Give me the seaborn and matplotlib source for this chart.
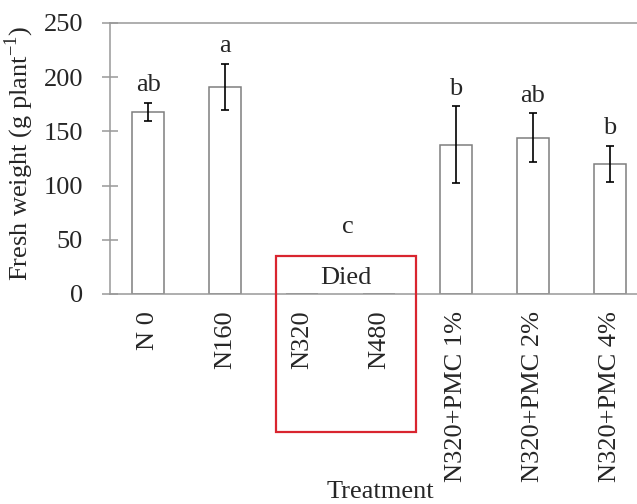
import matplotlib
matplotlib.use("Agg")
import matplotlib.pyplot as plt
import matplotlib.patches as mpatches
import seaborn as sns
import pandas as pd
import numpy as np

# values
treatments = ["N 0", "N160", "N320", "N480",
              "N320+PMC 1%", "N320+PMC 2%", "N320+PMC 4%"]
fresh_weight = [168, 191, 0, 0, 137.5, 144, 120]
std_err = [8, 21, 0, 0, 35.5, 22.5, 16.5]
letters = ["ab", "a", "", "", "b", "ab", "b"]

sns.set_theme(style="white")
plt.rcParams["font.family"] = ["Liberation Serif", "DejaVu Serif"]
plt.rcParams["mathtext.fontset"] = "custom"
plt.rcParams["mathtext.rm"] = "Liberation Serif"
FS = 19

df = pd.DataFrame({"treatment": treatments, "weight": fresh_weight})

fig = plt.figure(figsize=(6.37, 5.04), dpi=100)
ax = fig.add_axes([0.1727, 0.4167, 0.8446, 0.5377])

sns.barplot(data=df, x="treatment", y="weight", color="white",
            edgecolor="#7f7f7f", linewidth=1.1, width=0.415,
            errorbar=None, ax=ax)
xpos = np.arange(len(treatments))
alive = np.array(fresh_weight) > 0
ax.errorbar(xpos[alive], np.array(fresh_weight)[alive],
            yerr=np.array(std_err)[alive], fmt="none",
            ecolor="black", elinewidth=1.2, capsize=3, capthick=1.2)

# significance letters
for x, m, e, lab in zip(xpos, fresh_weight, std_err, letters):
    if lab:
        ax.annotate(lab, (x, m + e), xytext=(0, 5), textcoords="offset points",
                    ha="center", va="bottom", fontsize=FS)
ax.text(2.6, 62, "c", ha="center", va="center", fontsize=FS)
ax.text(2.57, 15, "Died", ha="center", va="center", fontsize=FS)
ax.add_patch(mpatches.Rectangle((1.656, -127), 1.824, 162.3, fill=False,
                                edgecolor="#d9252f", linewidth=1.6,
                                clip_on=False, zorder=5))

ax.set_ylim(0, 250)
ax.set_xlim(-0.5, len(treatments) - 0.5)
ax.set_yticks([0, 50, 100, 150, 200, 250])
ax.set_xticks(xpos)
ax.set_xticklabels(treatments, rotation=90)
ax.set_xticks(np.arange(-0.5, len(treatments)), minor=True)
ax.tick_params(axis="x", which="major", length=0, pad=12, labelsize=FS)
ax.tick_params(axis="x", which="minor", direction="inout", length=12,
               width=1.1, color="#999999")
ax.tick_params(axis="y", direction="inout", length=11, width=1.1,
               color="#999999", pad=14, labelsize=FS, left=True)

for side in ["left", "bottom", "top", "right"]:
    ax.spines[side].set_color("#999999")
    ax.spines[side].set_linewidth(1.1)

ax.set_ylabel("Fresh weight (g plant$^{-1}$)", fontsize=FS)
ax.set_xlabel("Treatment", fontsize=FS)
ax.yaxis.set_label_coords(-0.138, 0.518)
ax.xaxis.set_label_coords(0.502, -0.69)

fig.savefig("out.png", dpi=100)
